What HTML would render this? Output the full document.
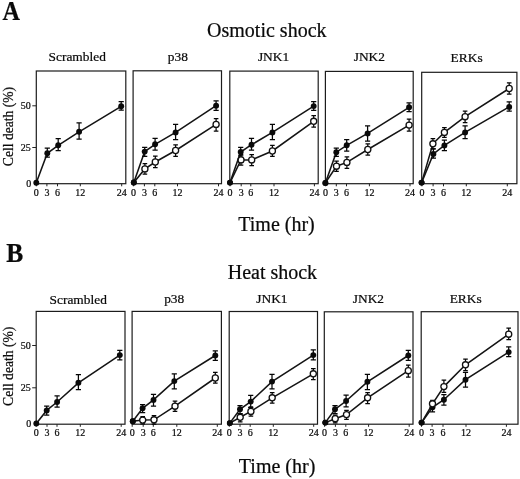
<!DOCTYPE html>
<html lang="en"><head><meta charset="utf-8"><title>Cell death time course</title>
<style>html,body{margin:0;padding:0;background:#fff}svg{display:block}text{font-family:"Liberation Serif","DejaVu Serif",serif;fill:#0a0a0a;stroke:#0a0a0a;stroke-width:0.22px}</style>
</head><body>
<svg width="520" height="479" viewBox="0 0 520 479">
<rect x="0" y="0" width="520" height="479" fill="#fff"/>
<text transform="translate(2.6 20.2) scale(0.93 1.06)" font-size="26" font-weight="bold">A</text>
<text x="266.8" y="36.6" font-size="20" text-anchor="middle">Osmotic shock</text>
<text x="77.2" y="60.7" font-size="13.4" text-anchor="middle">Scrambled</text>
<text x="177.8" y="60.7" font-size="13.4" text-anchor="middle">p38</text>
<text x="273.5" y="60.8" font-size="13.4" text-anchor="middle">JNK1</text>
<text x="369.3" y="61.2" font-size="13.4" text-anchor="middle">JNK2</text>
<text x="466.6" y="61.7" font-size="13.4" text-anchor="middle">ERKs</text>
<text transform="translate(12.8 126.5) rotate(-90)" font-size="13.6" text-anchor="middle">Cell death (%)</text>
<rect x="36.3" y="71.0" width="89.5" height="112.7" fill="none" stroke="#1c1c1c" stroke-width="1.2"/>
<path d="M36.3 183.7v2.6M46.9 183.7v2.6M57.5 183.7v2.6M80.3 183.7v2.6M121.7 183.7v2.6" stroke="#222" stroke-width="1" fill="none"/>
<text x="36.3" y="195.5" font-size="10" text-anchor="middle">0</text>
<text x="46.9" y="195.5" font-size="10" text-anchor="middle">3</text>
<text x="57.5" y="195.5" font-size="10" text-anchor="middle">6</text>
<text x="80.3" y="195.5" font-size="10" text-anchor="middle">12</text>
<text x="121.7" y="195.5" font-size="10" text-anchor="middle">24</text>
<rect x="133.1" y="70.8" width="88.4" height="112.9" fill="none" stroke="#1c1c1c" stroke-width="1.2"/>
<path d="M133.4 183.7v2.6M144.4 183.7v2.6M154.8 183.7v2.6M177.5 183.7v2.6M218.5 183.7v2.6" stroke="#222" stroke-width="1" fill="none"/>
<text x="133.4" y="195.5" font-size="10" text-anchor="middle">0</text>
<text x="144.4" y="195.5" font-size="10" text-anchor="middle">3</text>
<text x="154.8" y="195.5" font-size="10" text-anchor="middle">6</text>
<text x="177.5" y="195.5" font-size="10" text-anchor="middle">12</text>
<text x="218.5" y="195.5" font-size="10" text-anchor="middle">24</text>
<rect x="229.8" y="71.1" width="88.4" height="112.6" fill="none" stroke="#1c1c1c" stroke-width="1.2"/>
<path d="M230.0 183.7v2.6M241.2 183.7v2.6M250.8 183.7v2.6M274.0 183.7v2.6M314.4 183.7v2.6" stroke="#222" stroke-width="1" fill="none"/>
<text x="230.0" y="195.5" font-size="10" text-anchor="middle">0</text>
<text x="241.2" y="195.5" font-size="10" text-anchor="middle">3</text>
<text x="250.8" y="195.5" font-size="10" text-anchor="middle">6</text>
<text x="274.0" y="195.5" font-size="10" text-anchor="middle">12</text>
<text x="314.4" y="195.5" font-size="10" text-anchor="middle">24</text>
<rect x="325.4" y="71.4" width="87.8" height="112.3" fill="none" stroke="#1c1c1c" stroke-width="1.2"/>
<path d="M325.6 183.7v2.6M336.3 183.7v2.6M346.5 183.7v2.6M369.4 183.7v2.6M410.0 183.7v2.6" stroke="#222" stroke-width="1" fill="none"/>
<text x="325.6" y="195.5" font-size="10" text-anchor="middle">0</text>
<text x="336.3" y="195.5" font-size="10" text-anchor="middle">3</text>
<text x="346.5" y="195.5" font-size="10" text-anchor="middle">6</text>
<text x="369.4" y="195.5" font-size="10" text-anchor="middle">12</text>
<text x="410.0" y="195.5" font-size="10" text-anchor="middle">24</text>
<rect x="421.7" y="72.3" width="95.2" height="111.4" fill="none" stroke="#1c1c1c" stroke-width="1.2"/>
<path d="M421.9 183.7v2.6M433.1 183.7v2.6M443.5 183.7v2.6M466.3 183.7v2.6M507.3 183.7v2.6" stroke="#222" stroke-width="1" fill="none"/>
<text x="421.9" y="195.5" font-size="10" text-anchor="middle">0</text>
<text x="433.1" y="195.5" font-size="10" text-anchor="middle">3</text>
<text x="443.5" y="195.5" font-size="10" text-anchor="middle">6</text>
<text x="466.3" y="195.5" font-size="10" text-anchor="middle">12</text>
<text x="507.3" y="195.5" font-size="10" text-anchor="middle">24</text>
<path d="M32.3 105.8H36.3" stroke="#222" stroke-width="1" fill="none"/>
<text x="30.8" y="108.9" font-size="10" text-anchor="end">50</text>
<path d="M32.3 147.5H36.3" stroke="#222" stroke-width="1" fill="none"/>
<text x="30.8" y="150.6" font-size="10" text-anchor="end">25</text>
<text x="31.2" y="187.0" font-size="10" text-anchor="end">0</text>
<path d="M36.3 182.8 L47.3 153.3 L58.2 145.3 L79.1 131.8 L121.2 106.3" fill="none" stroke="#141414" stroke-width="1.55"/>
<path d="M47.3 148.0V157.2M44.7 148.0H49.9M44.7 157.2H49.9" fill="none" stroke="#050505" stroke-width="1.25"/>
<path d="M58.2 138.6V150.5M55.6 138.6H60.8M55.6 150.5H60.8" fill="none" stroke="#050505" stroke-width="1.25"/>
<path d="M79.1 122.8V139.0M76.5 122.8H81.7M76.5 139.0H81.7" fill="none" stroke="#050505" stroke-width="1.25"/>
<path d="M121.2 101.5V110.2M118.6 101.5H123.8M118.6 110.2H123.8" fill="none" stroke="#050505" stroke-width="1.25"/>
<circle cx="36.3" cy="182.8" r="2.95" fill="#0a0a0a"/>
<circle cx="47.3" cy="153.3" r="2.95" fill="#0a0a0a"/>
<circle cx="58.2" cy="145.3" r="2.95" fill="#0a0a0a"/>
<circle cx="79.1" cy="131.8" r="2.95" fill="#0a0a0a"/>
<circle cx="121.2" cy="106.3" r="2.95" fill="#0a0a0a"/>
<path d="M133.8 182.5 L144.9 168.9 L155.3 162.0 L175.6 150.5 L216.1 124.4" fill="none" stroke="#141414" stroke-width="1.55"/>
<path d="M144.9 163.5V174.1M142.6 163.5H147.2M142.6 174.1H147.2" fill="none" stroke="#050505" stroke-width="1.25"/>
<path d="M155.3 156.2V167.7M153.0 156.2H157.6M153.0 167.7H157.6" fill="none" stroke="#050505" stroke-width="1.25"/>
<path d="M175.6 144.9V156.4M173.3 144.9H177.9M173.3 156.4H177.9" fill="none" stroke="#050505" stroke-width="1.25"/>
<path d="M216.1 118.6V131.1M213.8 118.6H218.4M213.8 131.1H218.4" fill="none" stroke="#050505" stroke-width="1.25"/>
<circle cx="133.8" cy="182.5" r="2.95" fill="#0a0a0a"/>
<circle cx="144.9" cy="168.9" r="3.05" fill="#fff" stroke="#111" stroke-width="1.3"/>
<circle cx="155.3" cy="162.0" r="3.05" fill="#fff" stroke="#111" stroke-width="1.3"/>
<circle cx="175.6" cy="150.5" r="3.05" fill="#fff" stroke="#111" stroke-width="1.3"/>
<circle cx="216.1" cy="124.4" r="3.05" fill="#fff" stroke="#111" stroke-width="1.3"/>
<path d="M133.8 182.5 L144.7 151.6 L155.1 144.3 L175.6 132.4 L216.1 105.7" fill="none" stroke="#141414" stroke-width="1.55"/>
<path d="M144.7 147.4V156.4M142.1 147.4H147.3M142.1 156.4H147.3" fill="none" stroke="#050505" stroke-width="1.25"/>
<path d="M155.1 138.4V150.1M152.5 138.4H157.7M152.5 150.1H157.7" fill="none" stroke="#050505" stroke-width="1.25"/>
<path d="M175.6 124.4V139.7M173.0 124.4H178.2M173.0 139.7H178.2" fill="none" stroke="#050505" stroke-width="1.25"/>
<path d="M216.1 100.9V110.3M213.5 100.9H218.7M213.5 110.3H218.7" fill="none" stroke="#050505" stroke-width="1.25"/>
<circle cx="133.8" cy="182.5" r="2.95" fill="#0a0a0a"/>
<circle cx="144.7" cy="151.6" r="2.95" fill="#0a0a0a"/>
<circle cx="155.1" cy="144.3" r="2.95" fill="#0a0a0a"/>
<circle cx="175.6" cy="132.4" r="2.95" fill="#0a0a0a"/>
<circle cx="216.1" cy="105.7" r="2.95" fill="#0a0a0a"/>
<path d="M230.0 182.6 L241.0 159.9 L251.7 159.9 L272.4 151.0 L313.7 121.3" fill="none" stroke="#141414" stroke-width="1.55"/>
<path d="M241.0 154.7V165.2M238.7 154.7H243.3M238.7 165.2H243.3" fill="none" stroke="#050505" stroke-width="1.25"/>
<path d="M251.7 154.7V165.6M249.4 154.7H254.0M249.4 165.6H254.0" fill="none" stroke="#050505" stroke-width="1.25"/>
<path d="M272.4 145.3V156.4M270.1 145.3H274.7M270.1 156.4H274.7" fill="none" stroke="#050505" stroke-width="1.25"/>
<path d="M313.7 115.5V127.2M311.4 115.5H316.0M311.4 127.2H316.0" fill="none" stroke="#050505" stroke-width="1.25"/>
<circle cx="230.0" cy="182.6" r="2.95" fill="#0a0a0a"/>
<circle cx="241.0" cy="159.9" r="3.05" fill="#fff" stroke="#111" stroke-width="1.3"/>
<circle cx="251.7" cy="159.9" r="3.05" fill="#fff" stroke="#111" stroke-width="1.3"/>
<circle cx="272.4" cy="151.0" r="3.05" fill="#fff" stroke="#111" stroke-width="1.3"/>
<circle cx="313.7" cy="121.3" r="3.05" fill="#fff" stroke="#111" stroke-width="1.3"/>
<path d="M230.0 182.6 L240.7 152.0 L251.5 144.7 L272.4 132.4 L313.7 106.1" fill="none" stroke="#141414" stroke-width="1.55"/>
<path d="M240.7 147.4V155.8M238.1 147.4H243.3M238.1 155.8H243.3" fill="none" stroke="#050505" stroke-width="1.25"/>
<path d="M251.5 138.4V150.1M248.9 138.4H254.1M248.9 150.1H254.1" fill="none" stroke="#050505" stroke-width="1.25"/>
<path d="M272.4 124.4V139.7M269.8 124.4H275.0M269.8 139.7H275.0" fill="none" stroke="#050505" stroke-width="1.25"/>
<path d="M313.7 101.5V110.3M311.1 101.5H316.3M311.1 110.3H316.3" fill="none" stroke="#050505" stroke-width="1.25"/>
<circle cx="230.0" cy="182.6" r="2.95" fill="#0a0a0a"/>
<circle cx="240.7" cy="152.0" r="2.95" fill="#0a0a0a"/>
<circle cx="251.5" cy="144.7" r="2.95" fill="#0a0a0a"/>
<circle cx="272.4" cy="132.4" r="2.95" fill="#0a0a0a"/>
<circle cx="313.7" cy="106.1" r="2.95" fill="#0a0a0a"/>
<path d="M325.4 182.9 L336.5 166.2 L346.9 162.4 L367.8 149.5 L409.1 125.1" fill="none" stroke="#141414" stroke-width="1.55"/>
<path d="M336.5 161.0V171.4M334.2 161.0H338.8M334.2 171.4H338.8" fill="none" stroke="#050505" stroke-width="1.25"/>
<path d="M346.9 156.8V168.3M344.6 156.8H349.2M344.6 168.3H349.2" fill="none" stroke="#050505" stroke-width="1.25"/>
<path d="M367.8 143.9V155.1M365.5 143.9H370.1M365.5 155.1H370.1" fill="none" stroke="#050505" stroke-width="1.25"/>
<path d="M409.1 119.2V131.1M406.8 119.2H411.4M406.8 131.1H411.4" fill="none" stroke="#050505" stroke-width="1.25"/>
<circle cx="325.4" cy="182.9" r="2.95" fill="#0a0a0a"/>
<circle cx="336.5" cy="166.2" r="3.05" fill="#fff" stroke="#111" stroke-width="1.3"/>
<circle cx="346.9" cy="162.4" r="3.05" fill="#fff" stroke="#111" stroke-width="1.3"/>
<circle cx="367.8" cy="149.5" r="3.05" fill="#fff" stroke="#111" stroke-width="1.3"/>
<circle cx="409.1" cy="125.1" r="3.05" fill="#fff" stroke="#111" stroke-width="1.3"/>
<path d="M325.4 182.9 L336.3 152.2 L346.7 145.3 L367.6 133.4 L409.1 107.3" fill="none" stroke="#141414" stroke-width="1.55"/>
<path d="M336.3 148.0V156.4M333.7 148.0H338.9M333.7 156.4H338.9" fill="none" stroke="#050505" stroke-width="1.25"/>
<path d="M346.7 139.5V151.0M344.1 139.5H349.3M344.1 151.0H349.3" fill="none" stroke="#050505" stroke-width="1.25"/>
<path d="M367.6 125.9V141.1M365.0 125.9H370.2M365.0 141.1H370.2" fill="none" stroke="#050505" stroke-width="1.25"/>
<path d="M409.1 102.9V111.5M406.5 102.9H411.7M406.5 111.5H411.7" fill="none" stroke="#050505" stroke-width="1.25"/>
<circle cx="325.4" cy="182.9" r="2.95" fill="#0a0a0a"/>
<circle cx="336.3" cy="152.2" r="2.95" fill="#0a0a0a"/>
<circle cx="346.7" cy="145.3" r="2.95" fill="#0a0a0a"/>
<circle cx="367.6" cy="133.4" r="2.95" fill="#0a0a0a"/>
<circle cx="409.1" cy="107.3" r="2.95" fill="#0a0a0a"/>
<path d="M421.6 182.6 L433.4 153.9 L444.4 145.4 L465.1 132.4 L509.2 106.9" fill="none" stroke="#141414" stroke-width="1.55"/>
<path d="M433.4 148.9V158.1M430.8 148.9H436.0M430.8 158.1H436.0" fill="none" stroke="#050505" stroke-width="1.25"/>
<path d="M444.4 140.2V150.7M441.8 140.2H447.0M441.8 150.7H447.0" fill="none" stroke="#050505" stroke-width="1.25"/>
<path d="M465.1 125.9V138.6M462.5 125.9H467.7M462.5 138.6H467.7" fill="none" stroke="#050505" stroke-width="1.25"/>
<path d="M509.2 101.8V111.0M506.6 101.8H511.8M506.6 111.0H511.8" fill="none" stroke="#050505" stroke-width="1.25"/>
<circle cx="421.6" cy="182.6" r="2.95" fill="#0a0a0a"/>
<circle cx="433.4" cy="153.9" r="2.95" fill="#0a0a0a"/>
<circle cx="444.4" cy="145.4" r="2.95" fill="#0a0a0a"/>
<circle cx="465.1" cy="132.4" r="2.95" fill="#0a0a0a"/>
<circle cx="509.2" cy="106.9" r="2.95" fill="#0a0a0a"/>
<path d="M421.6 182.6 L432.9 143.8 L444.4 132.4 L465.1 116.7 L509.2 88.5" fill="none" stroke="#141414" stroke-width="1.55"/>
<path d="M432.9 138.6V148.9M430.6 138.6H435.2M430.6 148.9H435.2" fill="none" stroke="#050505" stroke-width="1.25"/>
<path d="M444.4 127.5V137.4M442.1 127.5H446.7M442.1 137.4H446.7" fill="none" stroke="#050505" stroke-width="1.25"/>
<path d="M465.1 111.0V122.5M462.8 111.0H467.4M462.8 122.5H467.4" fill="none" stroke="#050505" stroke-width="1.25"/>
<path d="M509.2 82.8V94.2M506.9 82.8H511.5M506.9 94.2H511.5" fill="none" stroke="#050505" stroke-width="1.25"/>
<circle cx="421.6" cy="182.6" r="2.95" fill="#0a0a0a"/>
<circle cx="432.9" cy="143.8" r="3.05" fill="#fff" stroke="#111" stroke-width="1.3"/>
<circle cx="444.4" cy="132.4" r="3.05" fill="#fff" stroke="#111" stroke-width="1.3"/>
<circle cx="465.1" cy="116.7" r="3.05" fill="#fff" stroke="#111" stroke-width="1.3"/>
<circle cx="509.2" cy="88.5" r="3.05" fill="#fff" stroke="#111" stroke-width="1.3"/>
<text x="276.5" y="230.8" font-size="20" text-anchor="middle">Time (hr)</text>
<text transform="translate(6.3 262.3) scale(0.98 1.03)" font-size="26" font-weight="bold">B</text>
<text x="272.4" y="278.7" font-size="20" text-anchor="middle">Heat shock</text>
<text x="78.2" y="303.8" font-size="13.4" text-anchor="middle">Scrambled</text>
<text x="174.2" y="303.3" font-size="13.4" text-anchor="middle">p38</text>
<text x="271.9" y="302.6" font-size="13.4" text-anchor="middle">JNK1</text>
<text x="368.4" y="302.6" font-size="13.4" text-anchor="middle">JNK2</text>
<text x="465.7" y="303.3" font-size="13.4" text-anchor="middle">ERKs</text>
<text transform="translate(12.9 366.3) rotate(-90)" font-size="13.6" text-anchor="middle">Cell death (%)</text>
<rect x="36.2" y="311.4" width="88.8" height="112.8" fill="none" stroke="#1c1c1c" stroke-width="1.2"/>
<path d="M36.2 424.2v2.6M47.0 424.2v2.6M57.0 424.2v2.6M80.3 424.2v2.6M121.2 424.2v2.6" stroke="#222" stroke-width="1" fill="none"/>
<text x="36.2" y="435.8" font-size="10" text-anchor="middle">0</text>
<text x="47.0" y="435.8" font-size="10" text-anchor="middle">3</text>
<text x="57.0" y="435.8" font-size="10" text-anchor="middle">6</text>
<text x="80.3" y="435.8" font-size="10" text-anchor="middle">12</text>
<text x="121.2" y="435.8" font-size="10" text-anchor="middle">24</text>
<rect x="132.1" y="311.4" width="89.3" height="112.8" fill="none" stroke="#1c1c1c" stroke-width="1.2"/>
<path d="M132.2 424.2v2.6M143.2 424.2v2.6M153.3 424.2v2.6M176.8 424.2v2.6M217.3 424.2v2.6" stroke="#222" stroke-width="1" fill="none"/>
<text x="132.2" y="435.8" font-size="10" text-anchor="middle">0</text>
<text x="143.2" y="435.8" font-size="10" text-anchor="middle">3</text>
<text x="153.3" y="435.8" font-size="10" text-anchor="middle">6</text>
<text x="176.8" y="435.8" font-size="10" text-anchor="middle">12</text>
<text x="217.3" y="435.8" font-size="10" text-anchor="middle">24</text>
<rect x="229.2" y="311.5" width="88.3" height="112.7" fill="none" stroke="#1c1c1c" stroke-width="1.2"/>
<path d="M229.3 424.2v2.6M240.0 424.2v2.6M250.2 424.2v2.6M273.3 424.2v2.6M313.7 424.2v2.6" stroke="#222" stroke-width="1" fill="none"/>
<text x="229.3" y="435.8" font-size="10" text-anchor="middle">0</text>
<text x="240.0" y="435.8" font-size="10" text-anchor="middle">3</text>
<text x="250.2" y="435.8" font-size="10" text-anchor="middle">6</text>
<text x="273.3" y="435.8" font-size="10" text-anchor="middle">12</text>
<text x="313.7" y="435.8" font-size="10" text-anchor="middle">24</text>
<rect x="324.3" y="311.8" width="88.7" height="112.4" fill="none" stroke="#1c1c1c" stroke-width="1.2"/>
<path d="M324.6 424.2v2.6M335.4 424.2v2.6M345.8 424.2v2.6M368.6 424.2v2.6M409.2 424.2v2.6" stroke="#222" stroke-width="1" fill="none"/>
<text x="324.6" y="435.8" font-size="10" text-anchor="middle">0</text>
<text x="335.4" y="435.8" font-size="10" text-anchor="middle">3</text>
<text x="345.8" y="435.8" font-size="10" text-anchor="middle">6</text>
<text x="368.6" y="435.8" font-size="10" text-anchor="middle">12</text>
<text x="409.2" y="435.8" font-size="10" text-anchor="middle">24</text>
<rect x="421.2" y="311.7" width="96.8" height="112.5" fill="none" stroke="#1c1c1c" stroke-width="1.2"/>
<path d="M421.5 424.2v2.6M432.1 424.2v2.6M443.0 424.2v2.6M466.0 424.2v2.6M506.4 424.2v2.6" stroke="#222" stroke-width="1" fill="none"/>
<text x="421.5" y="435.8" font-size="10" text-anchor="middle">0</text>
<text x="432.1" y="435.8" font-size="10" text-anchor="middle">3</text>
<text x="443.0" y="435.8" font-size="10" text-anchor="middle">6</text>
<text x="466.0" y="435.8" font-size="10" text-anchor="middle">12</text>
<text x="506.4" y="435.8" font-size="10" text-anchor="middle">24</text>
<path d="M32.2 345.5H36.2" stroke="#222" stroke-width="1" fill="none"/>
<text x="30.8" y="348.6" font-size="10" text-anchor="end">50</text>
<path d="M32.2 387.8H36.2" stroke="#222" stroke-width="1" fill="none"/>
<text x="30.8" y="390.9" font-size="10" text-anchor="end">25</text>
<text x="31.2" y="427.2" font-size="10" text-anchor="end">0</text>
<path d="M36.3 423.5 L46.7 410.4 L57.1 402.0 L78.4 382.8 L119.8 355.1" fill="none" stroke="#141414" stroke-width="1.55"/>
<path d="M46.7 406.2V415.0M44.1 406.2H49.3M44.1 415.0H49.3" fill="none" stroke="#050505" stroke-width="1.25"/>
<path d="M57.1 395.8V407.2M54.5 395.8H59.7M54.5 407.2H59.7" fill="none" stroke="#050505" stroke-width="1.25"/>
<path d="M78.4 374.5V389.5M75.8 374.5H81.0M75.8 389.5H81.0" fill="none" stroke="#050505" stroke-width="1.25"/>
<path d="M119.8 350.3V359.9M117.2 350.3H122.4M117.2 359.9H122.4" fill="none" stroke="#050505" stroke-width="1.25"/>
<circle cx="36.3" cy="423.5" r="2.95" fill="#0a0a0a"/>
<circle cx="46.7" cy="410.4" r="2.95" fill="#0a0a0a"/>
<circle cx="57.1" cy="402.0" r="2.95" fill="#0a0a0a"/>
<circle cx="78.4" cy="382.8" r="2.95" fill="#0a0a0a"/>
<circle cx="119.8" cy="355.1" r="2.95" fill="#0a0a0a"/>
<path d="M132.8 421.2 L142.7 420.1 L154.0 419.8 L175.0 406.2 L215.3 378.0" fill="none" stroke="#141414" stroke-width="1.55"/>
<path d="M142.7 416.6V423.8M140.4 416.6H145.0M140.4 423.8H145.0" fill="none" stroke="#050505" stroke-width="1.25"/>
<path d="M154.0 415.6V424.0M151.7 415.6H156.3M151.7 424.0H156.3" fill="none" stroke="#050505" stroke-width="1.25"/>
<path d="M175.0 401.0V411.4M172.7 401.0H177.3M172.7 411.4H177.3" fill="none" stroke="#050505" stroke-width="1.25"/>
<path d="M215.3 372.4V383.2M213.0 372.4H217.6M213.0 383.2H217.6" fill="none" stroke="#050505" stroke-width="1.25"/>
<circle cx="132.8" cy="421.2" r="2.95" fill="#0a0a0a"/>
<circle cx="142.7" cy="420.1" r="3.05" fill="#fff" stroke="#111" stroke-width="1.3"/>
<circle cx="154.0" cy="419.8" r="3.05" fill="#fff" stroke="#111" stroke-width="1.3"/>
<circle cx="175.0" cy="406.2" r="3.05" fill="#fff" stroke="#111" stroke-width="1.3"/>
<circle cx="215.3" cy="378.0" r="3.05" fill="#fff" stroke="#111" stroke-width="1.3"/>
<path d="M132.8 421.2 L142.6 408.3 L153.5 399.9 L174.3 381.1 L215.3 355.5" fill="none" stroke="#141414" stroke-width="1.55"/>
<path d="M142.6 404.5V412.5M140.0 404.5H145.2M140.0 412.5H145.2" fill="none" stroke="#050505" stroke-width="1.25"/>
<path d="M153.5 394.3V406.2M150.9 394.3H156.1M150.9 406.2H156.1" fill="none" stroke="#050505" stroke-width="1.25"/>
<path d="M174.3 373.8V388.9M171.7 373.8H176.9M171.7 388.9H176.9" fill="none" stroke="#050505" stroke-width="1.25"/>
<path d="M215.3 350.9V360.3M212.7 350.9H217.9M212.7 360.3H217.9" fill="none" stroke="#050505" stroke-width="1.25"/>
<circle cx="132.8" cy="421.2" r="2.95" fill="#0a0a0a"/>
<circle cx="142.6" cy="408.3" r="2.95" fill="#0a0a0a"/>
<circle cx="153.5" cy="399.9" r="2.95" fill="#0a0a0a"/>
<circle cx="174.3" cy="381.1" r="2.95" fill="#0a0a0a"/>
<circle cx="215.3" cy="355.5" r="2.95" fill="#0a0a0a"/>
<path d="M229.8 423.1 L240.2 417.3 L250.9 411.4 L272.2 397.8 L313.3 373.8" fill="none" stroke="#141414" stroke-width="1.55"/>
<path d="M240.2 413.5V421.9M237.9 413.5H242.5M237.9 421.9H242.5" fill="none" stroke="#050505" stroke-width="1.25"/>
<path d="M250.9 406.8V416.2M248.6 406.8H253.2M248.6 416.2H253.2" fill="none" stroke="#050505" stroke-width="1.25"/>
<path d="M272.2 392.6V403.1M269.9 392.6H274.5M269.9 403.1H274.5" fill="none" stroke="#050505" stroke-width="1.25"/>
<path d="M313.3 368.6V379.7M311.0 368.6H315.6M311.0 379.7H315.6" fill="none" stroke="#050505" stroke-width="1.25"/>
<circle cx="229.8" cy="423.1" r="2.95" fill="#0a0a0a"/>
<circle cx="240.2" cy="417.3" r="3.05" fill="#fff" stroke="#111" stroke-width="1.3"/>
<circle cx="250.9" cy="411.4" r="3.05" fill="#fff" stroke="#111" stroke-width="1.3"/>
<circle cx="272.2" cy="397.8" r="3.05" fill="#fff" stroke="#111" stroke-width="1.3"/>
<circle cx="313.3" cy="373.8" r="3.05" fill="#fff" stroke="#111" stroke-width="1.3"/>
<path d="M229.8 423.1 L240.0 409.3 L250.7 401.6 L272.0 381.6 L313.3 355.1" fill="none" stroke="#141414" stroke-width="1.55"/>
<path d="M240.0 405.6V413.5M237.4 405.6H242.6M237.4 413.5H242.6" fill="none" stroke="#050505" stroke-width="1.25"/>
<path d="M250.7 395.3V407.7M248.1 395.3H253.3M248.1 407.7H253.3" fill="none" stroke="#050505" stroke-width="1.25"/>
<path d="M272.0 374.3V388.9M269.4 374.3H274.6M269.4 388.9H274.6" fill="none" stroke="#050505" stroke-width="1.25"/>
<path d="M313.3 349.8V359.9M310.7 349.8H315.9M310.7 359.9H315.9" fill="none" stroke="#050505" stroke-width="1.25"/>
<circle cx="229.8" cy="423.1" r="2.95" fill="#0a0a0a"/>
<circle cx="240.0" cy="409.3" r="2.95" fill="#0a0a0a"/>
<circle cx="250.7" cy="401.6" r="2.95" fill="#0a0a0a"/>
<circle cx="272.0" cy="381.6" r="2.95" fill="#0a0a0a"/>
<circle cx="313.3" cy="355.1" r="2.95" fill="#0a0a0a"/>
<path d="M325.3 422.6 L335.2 418.7 L346.5 414.6 L367.6 397.8 L408.3 370.7" fill="none" stroke="#141414" stroke-width="1.55"/>
<path d="M335.2 415.0V422.9M332.9 415.0H337.5M332.9 422.9H337.5" fill="none" stroke="#050505" stroke-width="1.25"/>
<path d="M346.5 410.4V419.4M344.2 410.4H348.8M344.2 419.4H348.8" fill="none" stroke="#050505" stroke-width="1.25"/>
<path d="M367.6 392.6V403.5M365.3 392.6H369.9M365.3 403.5H369.9" fill="none" stroke="#050505" stroke-width="1.25"/>
<path d="M408.3 365.0V377.0M406.0 365.0H410.6M406.0 377.0H410.6" fill="none" stroke="#050505" stroke-width="1.25"/>
<circle cx="325.3" cy="422.6" r="2.95" fill="#0a0a0a"/>
<circle cx="335.2" cy="418.7" r="3.05" fill="#fff" stroke="#111" stroke-width="1.3"/>
<circle cx="346.5" cy="414.6" r="3.05" fill="#fff" stroke="#111" stroke-width="1.3"/>
<circle cx="367.6" cy="397.8" r="3.05" fill="#fff" stroke="#111" stroke-width="1.3"/>
<circle cx="408.3" cy="370.7" r="3.05" fill="#fff" stroke="#111" stroke-width="1.3"/>
<path d="M325.3 422.6 L335.0 409.3 L346.1 401.0 L367.4 381.8 L408.3 355.5" fill="none" stroke="#141414" stroke-width="1.55"/>
<path d="M335.0 405.6V413.5M332.4 405.6H337.6M332.4 413.5H337.6" fill="none" stroke="#050505" stroke-width="1.25"/>
<path d="M346.1 395.1V406.8M343.5 395.1H348.7M343.5 406.8H348.7" fill="none" stroke="#050505" stroke-width="1.25"/>
<path d="M367.4 374.3V389.5M364.8 374.3H370.0M364.8 389.5H370.0" fill="none" stroke="#050505" stroke-width="1.25"/>
<path d="M408.3 350.3V360.3M405.7 350.3H410.9M405.7 360.3H410.9" fill="none" stroke="#050505" stroke-width="1.25"/>
<circle cx="325.3" cy="422.6" r="2.95" fill="#0a0a0a"/>
<circle cx="335.0" cy="409.3" r="2.95" fill="#0a0a0a"/>
<circle cx="346.1" cy="401.0" r="2.95" fill="#0a0a0a"/>
<circle cx="367.4" cy="381.8" r="2.95" fill="#0a0a0a"/>
<circle cx="408.3" cy="355.5" r="2.95" fill="#0a0a0a"/>
<path d="M421.6 422.6 L432.5 407.3 L443.9 399.7 L465.5 379.7 L508.7 352.1" fill="none" stroke="#141414" stroke-width="1.55"/>
<path d="M432.5 402.7V411.8M429.9 402.7H435.1M429.9 411.8H435.1" fill="none" stroke="#050505" stroke-width="1.25"/>
<path d="M443.9 394.6V405.0M441.3 394.6H446.5M441.3 405.0H446.5" fill="none" stroke="#050505" stroke-width="1.25"/>
<path d="M465.5 372.4V387.0M462.9 372.4H468.1M462.9 387.0H468.1" fill="none" stroke="#050505" stroke-width="1.25"/>
<path d="M508.7 346.9V356.7M506.1 346.9H511.3M506.1 356.7H511.3" fill="none" stroke="#050505" stroke-width="1.25"/>
<circle cx="421.6" cy="422.6" r="2.95" fill="#0a0a0a"/>
<circle cx="432.5" cy="407.3" r="2.95" fill="#0a0a0a"/>
<circle cx="443.9" cy="399.7" r="2.95" fill="#0a0a0a"/>
<circle cx="465.5" cy="379.7" r="2.95" fill="#0a0a0a"/>
<circle cx="508.7" cy="352.1" r="2.95" fill="#0a0a0a"/>
<path d="M421.6 422.6 L432.5 403.8 L443.9 386.6 L465.5 364.8 L508.7 334.2" fill="none" stroke="#141414" stroke-width="1.55"/>
<path d="M432.5 400.4V408.4M430.2 400.4H434.8M430.2 408.4H434.8" fill="none" stroke="#050505" stroke-width="1.25"/>
<path d="M443.9 380.2V392.3M441.6 380.2H446.2M441.6 392.3H446.2" fill="none" stroke="#050505" stroke-width="1.25"/>
<path d="M465.5 359.0V370.5M463.2 359.0H467.8M463.2 370.5H467.8" fill="none" stroke="#050505" stroke-width="1.25"/>
<path d="M508.7 328.0V339.5M506.4 328.0H511.0M506.4 339.5H511.0" fill="none" stroke="#050505" stroke-width="1.25"/>
<circle cx="421.6" cy="422.6" r="2.95" fill="#0a0a0a"/>
<circle cx="432.5" cy="403.8" r="3.05" fill="#fff" stroke="#111" stroke-width="1.3"/>
<circle cx="443.9" cy="386.6" r="3.05" fill="#fff" stroke="#111" stroke-width="1.3"/>
<circle cx="465.5" cy="364.8" r="3.05" fill="#fff" stroke="#111" stroke-width="1.3"/>
<circle cx="508.7" cy="334.2" r="3.05" fill="#fff" stroke="#111" stroke-width="1.3"/>
<text x="277.1" y="473.4" font-size="20" text-anchor="middle">Time (hr)</text>
</svg>
</body></html>
